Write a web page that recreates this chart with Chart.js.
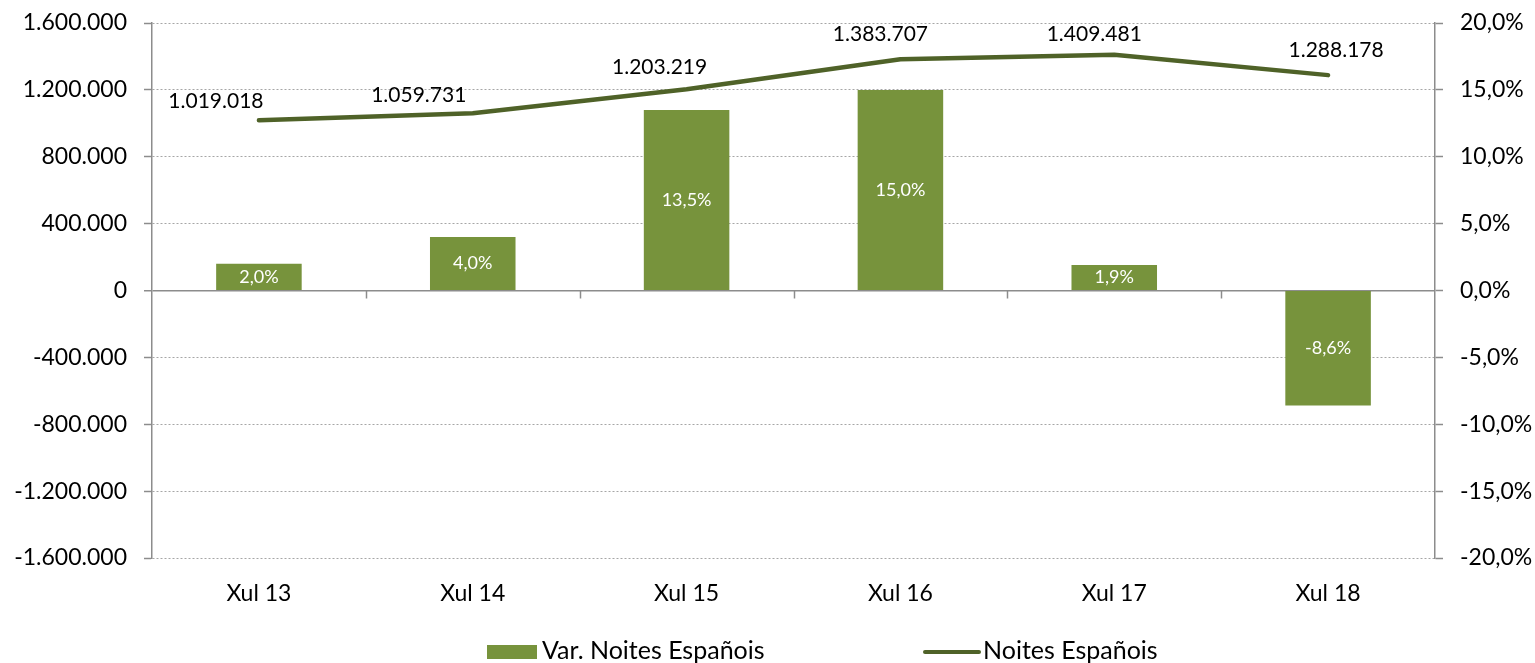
<!DOCTYPE html>
<html>
<head>
<meta charset="utf-8">
<script src="https://cdn.jsdelivr.net/npm/chart.js@4.4.0/dist/chart.umd.min.js"></script>
<style>
  html, body { margin: 0; padding: 0; background: #fff; }
  #wrap { width: 1535px; height: 663px; }
</style>
</head>
<body>
<div id="wrap"><canvas id="chart" width="1535" height="663"></canvas></div>
<script>
// data
const categories = ['Xul 13', 'Xul 14', 'Xul 15', 'Xul 16', 'Xul 17', 'Xul 18'];
const nightsValues = [1019018, 1059731, 1203219, 1383707, 1409481, 1288178];
const changeValues = [2.0, 4.0, 13.5, 15.0, 1.9, -8.6];
const leftTicks = [-1600000, -1200000, -800000, -400000, 0, 400000, 800000, 1200000, 1600000];
const rightTicks = [-20, -15, -10, -5, 0, 5, 10, 15, 20];

const barLabel = 'Var. Noites Españois';
const lineLabel = 'Noites Españois';

const BAR_COLOR = '#77933C';
const LINE_COLOR = '#4F6228';
const AXIS_COLOR = '#8c8c8c';
const GRID_COLOR = '#a6a6a6';
const FONT = 'Lato, "Noto Sans", sans-serif';

// where the line labels sit relative to their point (dx, dy in px)
const lineLabelNudge = [[-43, -19], [-54, -18], [-27, -22], [-20, -25], [-20, -21], [8, -25]];

function fmtThousands(v) {
    const s = Math.abs(Math.round(v)).toString().replace(/\B(?=(\d{3})+(?!\d))/g, '.');
    return (v < 0 ? '-' : '') + s;
}
function fmtPct(v) {
    return v.toFixed(1).replace('.', ',') + '%';
}

// small tick marks on the zero line between categories
const zeroTicks = {
    id: 'zeroTicks',
    afterDatasetsDraw(chart) {
        const { ctx, scales } = chart;
        const x = scales.x, y = scales.yL;
        const y0 = y.getPixelForValue(0);
        ctx.save();
        ctx.strokeStyle = AXIS_COLOR;
        ctx.lineWidth = 1.5;
        for (let i = 1; i < categories.length; i++) {
            const px = Math.round((x.getPixelForValue(i - 1) + x.getPixelForValue(i)) / 2) + 0.5;
            ctx.beginPath();
            ctx.moveTo(px, y0);
            ctx.lineTo(px, y0 + 8);
            ctx.stroke();
        }
        ctx.restore();
    }
};

const valueLabels = {
    id: 'valueLabels',
    afterDatasetsDraw(chart) {
        const ctx = chart.ctx;
        ctx.save();
        ctx.textAlign = 'center';
        ctx.textBaseline = 'middle';

        const bars = chart.getDatasetMeta(0).data;
        ctx.fillStyle = '#ffffff';
        ctx.font = '18px ' + FONT;
        bars.forEach((b, i) => {
            ctx.fillText(fmtPct(changeValues[i]), b.x, (b.y + b.base) / 2);
        });

        const pts = chart.getDatasetMeta(1).data;
        ctx.fillStyle = '#000000';
        ctx.font = '21px ' + FONT;
        pts.forEach((p, i) => {
            const n = lineLabelNudge[i];
            ctx.fillText(fmtThousands(nightsValues[i]), p.x + n[0], p.y + n[1]);
        });
        ctx.restore();
    }
};

const bottomLegend = {
    id: 'bottomLegend',
    afterDraw(chart) {
        const ctx = chart.ctx;
        const yMid = 652;
        ctx.save();
        ctx.font = '25px ' + FONT;
        ctx.textBaseline = 'middle';
        ctx.textAlign = 'left';

        ctx.fillStyle = BAR_COLOR;
        ctx.fillRect(487, yMid - 7, 50, 14);
        ctx.fillStyle = '#000';
        ctx.fillText(barLabel, 542, yMid - 1);

        ctx.strokeStyle = LINE_COLOR;
        ctx.lineWidth = 4;
        ctx.lineCap = 'round';
        ctx.beginPath();
        ctx.moveTo(925, yMid);
        ctx.lineTo(979, yMid);
        ctx.stroke();
        ctx.fillText(lineLabel, 983, yMid - 1);
        ctx.restore();
    }
};

new Chart(document.getElementById('chart'), {
    type: 'bar',
    data: {
        labels: categories,
        datasets: [
            {
                type: 'bar',
                label: barLabel,
                data: changeValues,
                yAxisID: 'yR',
                backgroundColor: BAR_COLOR,
                barPercentage: 0.4,
                categoryPercentage: 1.0,
                order: 1
            },
            {
                type: 'line',
                label: lineLabel,
                data: nightsValues,
                yAxisID: 'yL',
                borderColor: LINE_COLOR,
                borderWidth: 4.5,
                borderCapStyle: 'round',
                borderJoinStyle: 'round',
                pointRadius: 0,
                tension: 0,
                order: 0
            }
        ]
    },
    options: {
        responsive: false,
        animation: false,
        layout: { padding: { top: 23, left: 0, right: 0, bottom: 0 } },
        plugins: {
            legend: { display: false },
            tooltip: { enabled: false }
        },
        scales: {
            x: {
                grid: { display: false },
                border: { display: false },
                ticks: { color: '#000', font: { family: FONT, size: 23 }, padding: 14 },
                afterFit(scale) { scale.height = 105; }
            },
            yL: {
                position: 'left',
                min: leftTicks[0],
                max: leftTicks[leftTicks.length - 1],
                afterBuildTicks(scale) { scale.ticks = leftTicks.map(v => ({ value: v })); },
                ticks: {
                    color: '#000',
                    font: { family: FONT, size: 23 },
                    padding: 17,
                    callback: v => fmtThousands(v)
                },
                grid: {
                    color: ctx => (ctx.tick && ctx.tick.value === 0) ? AXIS_COLOR : GRID_COLOR,
                    lineWidth: ctx => (ctx.tick && ctx.tick.value === 0) ? 1.5 : 1,
                    drawTicks: true,
                    tickLength: 8,
                    tickColor: AXIS_COLOR,
                    tickWidth: 1.5,
                    tickBorderDash: []
                },
                border: {
                    display: true,
                    color: AXIS_COLOR,
                    width: 1.5,
                    dash: ctx => (ctx.tick && ctx.tick.value === 0) ? [] : [2, 2]
                },
                afterFit(scale) {
                    scale.width = 152;
                    scale.paddingTop = 0;
                    scale.paddingBottom = 0;
                }
            },
            yR: {
                position: 'right',
                min: rightTicks[0],
                max: rightTicks[rightTicks.length - 1],
                afterBuildTicks(scale) { scale.ticks = rightTicks.map(v => ({ value: v })); },
                ticks: {
                    color: '#000',
                    font: { family: FONT, size: 23 },
                    padding: 17,
                    callback: v => fmtPct(v)
                },
                grid: {
                    drawOnChartArea: false,
                    drawTicks: true,
                    tickLength: 8,
                    tickColor: AXIS_COLOR,
                    tickWidth: 1.5
                },
                border: { display: true, color: AXIS_COLOR, width: 1.5 },
                afterFit(scale) {
                    scale.width = 100;
                    scale.paddingTop = 0;
                    scale.paddingBottom = 0;
                }
            }
        }
    },
    plugins: [zeroTicks, valueLabels, bottomLegend]
});
</script>
</body>
</html>
